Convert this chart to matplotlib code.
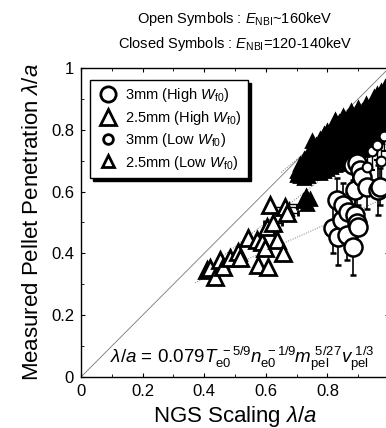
import matplotlib
matplotlib.use("Agg")
import matplotlib.pyplot as plt
from matplotlib.ticker import MultipleLocator

plt.rcParams['font.family'] = ['Liberation Sans', 'DejaVu Sans']
plt.rcParams['mathtext.fontset'] = 'custom'
plt.rcParams['mathtext.rm'] = 'Liberation Sans'
plt.rcParams['mathtext.it'] = 'Liberation Sans:italic'

# ---- data ----
# 2.5mm, high W_f0 (open, large triangles)
tri_hi_x = [0.409, 0.419, 0.435, 0.451, 0.461, 0.484, 0.510, 0.516, 0.542, 0.571,
            0.575, 0.588, 0.597, 0.604, 0.607, 0.614, 0.623, 0.636, 0.656, 0.662, 0.669]
tri_hi_y = [0.346, 0.353, 0.324, 0.379, 0.356, 0.385, 0.405, 0.385, 0.450, 0.443,
            0.362, 0.437, 0.417, 0.485, 0.356, 0.557, 0.498, 0.443, 0.401, 0.550, 0.531]
tri_hi_xerr = [0, 0, 0, 0, 0, 0, 0, 0, 0, 0,
               0, 0, 0, 0, 0, 0, 0.03, 0, 0, 0.04, 0.035]

# 3mm, high W_f0 (open, large circles)
circ_hi_x = [0.818, 0.831, 0.834, 0.847, 0.851, 0.864, 0.867, 0.883, 0.883, 0.890,
             0.890, 0.896, 0.896, 0.899, 0.906, 0.912, 0.929, 0.964, 0.970]
circ_hi_y = [0.482, 0.573, 0.453, 0.508, 0.557, 0.460, 0.534, 0.421, 0.686, 0.524,
             0.605, 0.498, 0.693, 0.485, 0.670, 0.647, 0.615, 0.605, 0.615]
circ_hi_yerr = [0.08, 0.07, 0.09, 0.06, 0.07, 0.08, 0.06, 0.09, 0.05, 0.06,
                0.07, 0.08, 0.05, 0.07, 0.06, 0.05, 0.07, 0.08, 0.06]

# 3mm, low W_f0 (open, small circles)
circ_lo_x = [0.930, 0.945, 0.961, 0.975, 0.985]
circ_lo_y = [0.680, 0.730, 0.751, 0.700, 0.780]
circ_lo_yerr = [0.05, 0.06, 0.05, 0.06, 0.05]

# 2.5mm, low W_f0 (closed, small triangles)
tri_lo_x = [0.700, 0.700,
            0.712, 0.712, 0.712,
            0.725, 0.725, 0.725, 0.725,
            0.738, 0.738, 0.738, 0.738,
            0.750, 0.750, 0.750, 0.750, 0.750,
            0.762, 0.762, 0.762, 0.762,
            0.775, 0.775, 0.775, 0.775, 0.775,
            0.788, 0.788, 0.788, 0.788, 0.788,
            0.800, 0.800, 0.800, 0.800, 0.800,
            0.812, 0.812, 0.812, 0.812, 0.812,
            0.825, 0.825, 0.825, 0.825, 0.825, 0.825,
            0.838, 0.838, 0.838, 0.838, 0.838,
            0.850, 0.850, 0.850, 0.850, 0.850, 0.850,
            0.862, 0.862, 0.862, 0.862, 0.862,
            0.875, 0.875, 0.875, 0.875, 0.875, 0.875,
            0.888, 0.888, 0.888, 0.888, 0.888,
            0.900, 0.900, 0.900, 0.900, 0.900, 0.900,
            0.912, 0.912, 0.912, 0.912, 0.912,
            0.925, 0.925, 0.925, 0.925, 0.925, 0.925,
            0.938, 0.938, 0.938, 0.938, 0.938,
            0.950, 0.950, 0.950, 0.950, 0.950, 0.950,
            0.962, 0.962, 0.962, 0.962, 0.962, 0.962,
            0.975, 0.975, 0.975, 0.975, 0.975, 0.975,
            0.988, 0.988, 0.988, 0.988, 0.988, 0.988,
            0.722, 0.735, 0.745, 0.730]
tri_lo_y = [0.655, 0.665,
            0.650, 0.672, 0.690,
            0.645, 0.668, 0.695, 0.705,
            0.652, 0.680, 0.705, 0.720,
            0.660, 0.690, 0.715, 0.745, 0.765,
            0.665, 0.695, 0.725, 0.750,
            0.660, 0.688, 0.718, 0.745, 0.770,
            0.668, 0.700, 0.730, 0.758, 0.785,
            0.672, 0.705, 0.735, 0.765, 0.795,
            0.680, 0.712, 0.742, 0.772, 0.800,
            0.685, 0.718, 0.750, 0.785, 0.815, 0.830,
            0.690, 0.722, 0.755, 0.790, 0.825,
            0.700, 0.730, 0.762, 0.795, 0.830, 0.845,
            0.705, 0.735, 0.768, 0.800, 0.838,
            0.712, 0.742, 0.775, 0.810, 0.845, 0.860,
            0.720, 0.750, 0.782, 0.815, 0.850,
            0.728, 0.758, 0.790, 0.822, 0.855, 0.870,
            0.735, 0.765, 0.798, 0.830, 0.862,
            0.745, 0.775, 0.805, 0.838, 0.870, 0.885,
            0.755, 0.785, 0.815, 0.845, 0.878,
            0.765, 0.795, 0.825, 0.855, 0.888, 0.905,
            0.775, 0.805, 0.835, 0.865, 0.895, 0.915,
            0.785, 0.815, 0.845, 0.875, 0.905, 0.925,
            0.795, 0.825, 0.855, 0.885, 0.915, 0.940,
            0.570, 0.560, 0.575, 0.585]

# dotted fit lines (end points)
fit_lines = [([0.37, 1.0], [0.305, 0.585]),
             ([0.40, 0.80], [0.344, 0.656]),
             ([0.65, 1.0], [0.662, 0.952])]

ticks = [0, 0.2, 0.4, 0.6, 0.8, 1]
tick_labels = ['0', '0.2', '0.4', '0.6', '0.8', '1']

# ---- figure ----
fig = plt.figure(figsize=(3.86, 4.28), dpi=100)
ax = fig.add_axes([0.2098, 0.1192, 0.798, 0.722])

ax.plot([0, 1], [0, 1], color='#777777', lw=0.6, zorder=1)
for fx, fy in fit_lines:
    ax.plot(fx, fy, color='#777777', lw=0.7, ls=(0, (1, 1.5)), zorder=1)

# closed small triangles
ax.plot(tri_lo_x, tri_lo_y, ls='none', marker='^', ms=8, mfc='black',
        mec='black', mew=2, zorder=3)
ax.errorbar([0.735], [0.560], xerr=[[0.06], [0.0]], fmt='none',
            ecolor='black', elinewidth=1, capsize=2, zorder=3)

# open large triangles
ax.errorbar(tri_hi_x, tri_hi_y, xerr=tri_hi_xerr, fmt='^', ms=12,
            mfc='white', mec='black', mew=2.0, ecolor='black',
            elinewidth=1, capsize=2, zorder=4)

# open large circles
ax.errorbar(circ_hi_x, circ_hi_y, yerr=circ_hi_yerr, fmt='o', ms=13,
            mfc='white', mec='black', mew=1.8, ecolor='black',
            elinewidth=1.2, capsize=2, zorder=5)

# open small circles
ax.errorbar(circ_lo_x, circ_lo_y, yerr=circ_lo_yerr, fmt='o', ms=7,
            mfc='white', mec='black', mew=1.5, ecolor='black',
            elinewidth=1, capsize=2, zorder=5)

# legend proxies
l1, = ax.plot([], [], ls='none', marker='o', ms=11, mfc='white', mec='black', mew=2)
l2, = ax.plot([], [], ls='none', marker='^', ms=12, mfc='white', mec='black', mew=2)
l3, = ax.plot([], [], ls='none', marker='o', ms=7, mfc='white', mec='black', mew=2)
l4, = ax.plot([], [], ls='none', marker='^', ms=8, mfc='white', mec='black', mew=2)
leg = ax.legend([l1, l2, l3, l4],
                [r'3mm (High $W_{\rm f0}$)', r'2.5mm (High $W_{\rm f0}$)',
                 r'3mm (Low $W_{\rm f0}$)', r'2.5mm (Low $W_{\rm f0}$)'],
                loc='upper left', bbox_to_anchor=(0.005, 0.985), fontsize=10.5,
                frameon=True, fancybox=False, shadow={'color': 'black', 'alpha': 1},
                handletextpad=0.35, borderpad=0.45, labelspacing=0.3,
                handlelength=1.6)
leg.get_frame().set_edgecolor('black')
leg.get_frame().set_linewidth(1.0)

ax.text(0.095, 0.06,
        r'$\lambda/a$ = 0.079$T_{\rm e0}^{\ -5/9}n_{\rm e0}^{\ -1/9}m_{\rm pel}^{\ 5/27}v_{\rm pel}^{\ 1/3}$',
        fontsize=13.5, ha='left', va='center', zorder=6)

ax.set_xlim(0, 1)
ax.set_ylim(0, 1)
ax.set_xticks(ticks)
ax.set_xticklabels(tick_labels)
ax.set_yticks(ticks)
ax.set_yticklabels(tick_labels)
ax.xaxis.set_minor_locator(MultipleLocator(0.1))
ax.yaxis.set_minor_locator(MultipleLocator(0.1))
ax.tick_params(which='both', direction='in', top=True, right=True,
               labelsize=12, colors='black', pad=5)
ax.tick_params(which='major', length=3)
ax.tick_params(which='minor', length=2)
for sp in ax.spines.values():
    sp.set_linestyle((0, (1, 1)))
    sp.set_linewidth(1.0)

ax.set_xlabel(r'NGS Scaling $\lambda/a$', fontsize=16, labelpad=4)
ax.set_ylabel(r'Measured Pellet Penetration $\lambda/a$', fontsize=16, labelpad=6)

fig.text(0.609, 0.956, r'Open Symbols : $E_{\rm NBI}$~160keV',
         ha='center', va='center', fontsize=10.5)
fig.text(0.609, 0.897, r'Closed Symbols : $E_{\rm NBI}$=120-140keV',
         ha='center', va='center', fontsize=10.5)

fig.savefig('out.png', dpi=100)
